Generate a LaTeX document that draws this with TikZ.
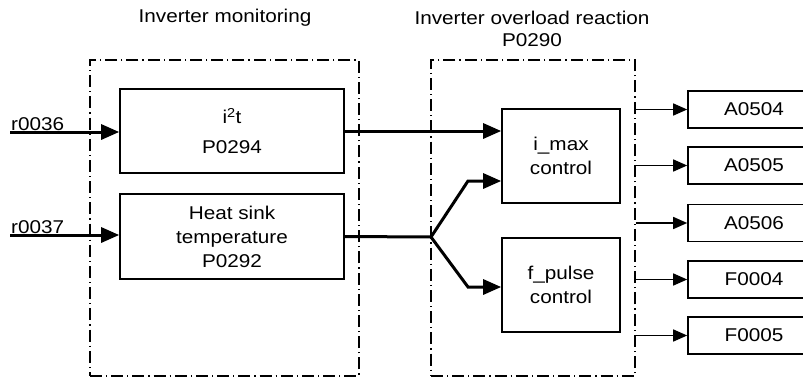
\documentclass[tikz,border=0pt]{standalone}
\usepackage{fontspec}
\setmainfont{Liberation Sans}[FakeStretch=1.12]
\usetikzlibrary{arrows.meta,positioning}

\begin{document}
\begin{tikzpicture}[x=1pt,y=-1pt,font=\fontsize{18.5}{24}\selectfont,
  blk/.style={draw,line width=1.6pt,align=center,inner sep=0pt},
  frame/.style={draw,line width=1.3pt,dash pattern=on 12pt off 4pt on 1.2pt off 4pt,inner sep=0pt},
  fatarrow/.style={line width=3pt,-{Triangle[length=18pt,width=15pt]}},
  fatline/.style={line width=3pt},
  thinarrow/.style={line width=1.5pt,-{Triangle[length=14pt,width=12pt]}}]
  \useasboundingbox (0,0) rectangle (803,378);

  \node[frame,minimum width=269,minimum height=316] (monitor) at (224.5,218) {};
  \node[frame,minimum width=204,minimum height=316] (reaction) at (533,218) {};
  \node (montitle) at (225,18) {Inverter monitoring};
  \node[align=center,font=\fontsize{18.5}{22}\selectfont] (reacttitle) at (532,29) {Inverter overload reaction\\P0290};

  \node[blk,minimum width=224,minimum height=84] (itwo) at (232,131) {i\textsuperscript{2}t\\[6pt]P0294};
  \node[blk,minimum width=224,minimum height=85] (heatsink) at (232,236.5) {Heat sink\\temperature\\P0292};
  \node[blk,minimum width=118,minimum height=94] (imax) at (561,156) {i\_max\\control};
  \node[blk,minimum width=118,minimum height=94] (fpulse) at (561,285) {f\_pulse\\control};

  \node[blk,minimum width=132,minimum height=37] (a504) at (754,109.5) {A0504};
  \node[blk,minimum width=132,minimum height=37] (a505) at (754,165.5) {A0505};
  \node[blk,minimum width=132,minimum height=37] (a506) at (754,223) {A0506};
  \node[blk,minimum width=132,minimum height=37] (f004) at (754,279.5) {F0004};
  \node[blk,minimum width=132,minimum height=37] (f005) at (754,335.5) {F0005};

  % inputs
  \coordinate (in36) at (10,132);
  \coordinate (in37) at (10,235);
  \node[above right,inner sep=1pt] (lbl36) at (in36) {r0036};
  \node[above right,inner sep=1pt] (lbl37) at (in37) {r0037};
  \draw[fatarrow] (in36) -- (in36 -| itwo.west);
  \draw[fatarrow] (in37) -- (in37 -| heatsink.west);

  % monitoring to reaction
  \coordinate (fork) at (431,237);
  \coordinate (forkup) at (468,181);
  \coordinate (forkdown) at (468,287);
  \draw[fatarrow] (itwo.east) -- (itwo.east -| imax.west);
  \draw[fatline] (heatsink.east) -- (fork);
  \draw[fatarrow] (fork) -- (forkup) -- (forkup -| imax.west);
  \draw[fatarrow] (fork) -- (forkdown) -- (forkdown -| fpulse.west);

  % messages
  \foreach \msg in {a504,a505,a506,f004,f005}
    \draw[thinarrow] (reaction.east |- \msg.west) -- (\msg.west);
\end{tikzpicture}
\end{document}
